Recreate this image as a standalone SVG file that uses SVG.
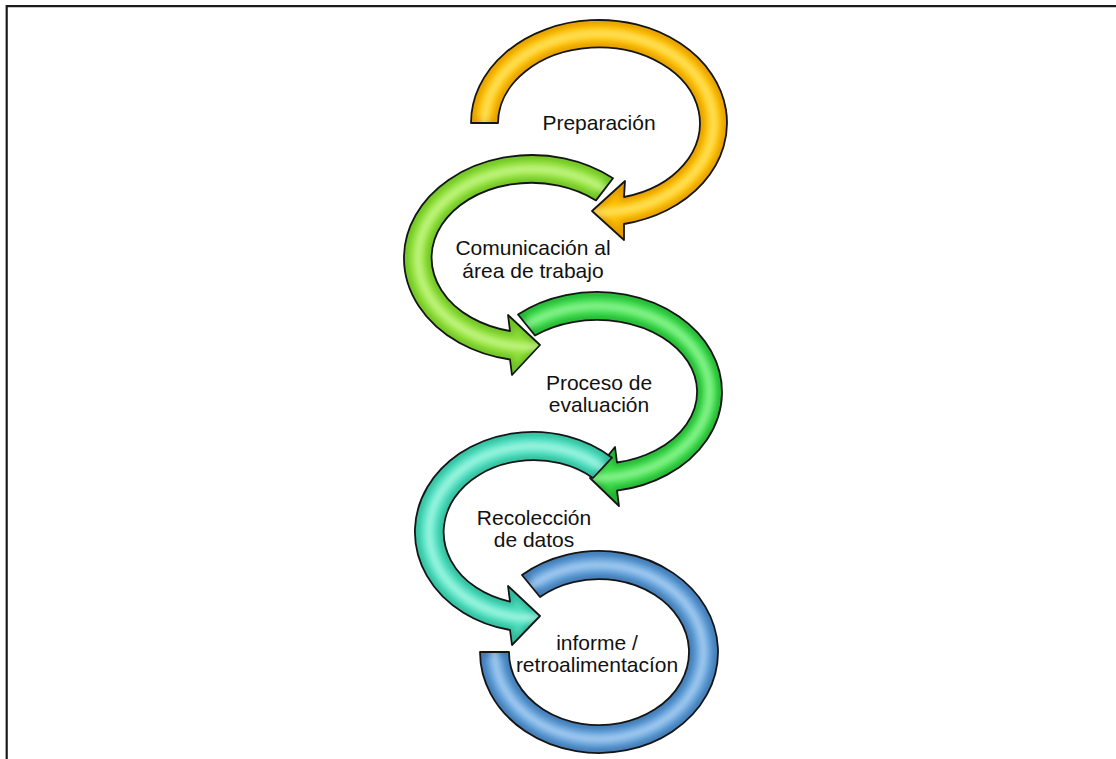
<svg xmlns="http://www.w3.org/2000/svg" xmlns:xlink="http://www.w3.org/1999/xlink" width="1116" height="759" viewBox="0 0 1116 759">
<style>
.lbl{font-family:"Liberation Sans",Arial,sans-serif;font-size:21px;fill:#111;text-anchor:middle}
.outline{fill:none;stroke:#151515;stroke-width:1.8;stroke-linejoin:round}
.frame{stroke:#1a1a1a;stroke-width:2.2;fill:none}
</style>
<defs>
<filter id="blur" x="-20%" y="-20%" width="140%" height="140%"><feGaussianBlur stdDeviation="3"/></filter>
<path id="p1" d="M471,123 A128,103 0 1 1 624,224 L624,240 L592,211 L625,181 L624,197 A101,76 0 1 0 498,123 Z"/>
<path id="p2" d="M613,178.3 A128,103 0 1 0 510,359.5 L512,375 L540,345 L508,315 L510,331 A100,75 0 1 1 596,200.4 Z"/>
<path id="p3" d="M518,314.5 A125,100 0 1 1 617,490.7 L619,506 L590,478 L615,447 L617,462.5 A100,72 0 1 0 535,335.5 Z"/>
<path id="p4" d="M612,457.7 A118,100 0 1 0 510,630 L512,645 L540,616 L508,586 L510,601.6 A90,72 0 1 1 593,478 Z"/>
<path id="p5" d="M522,575 A119,101 0 1 1 480,652 L509,652 A90,73 0 1 0 540,597 Z"/>
<clipPath id="c1"><use xlink:href="#p1"/></clipPath>
<clipPath id="c2"><use xlink:href="#p2"/></clipPath>
<clipPath id="c3"><use xlink:href="#p3"/></clipPath>
<clipPath id="c4"><use xlink:href="#p4"/></clipPath>
<clipPath id="c5"><use xlink:href="#p5"/></clipPath>
</defs>
<rect width="1116" height="759" fill="#fff"/>
<path class="frame" d="M6.7,759 L6.7,6.2 L1116,6.2"/>
<g id="connectors"/>
<g id="node-preparacion">
<use xlink:href="#p1" fill="#FFC000"/>
<g clip-path="url(#c1)">
<use xlink:href="#p1" fill="none" stroke="#E09A00" stroke-width="8" filter="url(#blur)"/>
<ellipse cx="599" cy="123" rx="114.5" ry="89.5" fill="none" stroke="#FFF38A" stroke-width="7" opacity="0.75" filter="url(#blur)"/>
</g>
<use xlink:href="#p1" class="outline"/>
<text class="lbl" x="599" y="130">Preparación</text>
</g>
<g id="node-comunicacion">
<use xlink:href="#p2" fill="#8FE03A"/>
<g clip-path="url(#c2)">
<use xlink:href="#p2" fill="none" stroke="#6CC020" stroke-width="8" filter="url(#blur)"/>
<ellipse cx="532" cy="258" rx="114" ry="89" fill="none" stroke="#DDFFA8" stroke-width="7" opacity="0.75" filter="url(#blur)"/>
</g>
<use xlink:href="#p2" class="outline"/>
<text class="lbl" x="533" y="255">Comunicación al</text>
<text class="lbl" x="533" y="278">área de trabajo</text>
</g>
<g id="node-proceso">
<use xlink:href="#p3" fill="#3DDC4C"/>
<g clip-path="url(#c3)">
<use xlink:href="#p3" fill="none" stroke="#22B030" stroke-width="8" filter="url(#blur)"/>
<ellipse cx="597" cy="392" rx="112.5" ry="86" fill="none" stroke="#B0FFB0" stroke-width="7" opacity="0.75" filter="url(#blur)"/>
</g>
<use xlink:href="#p3" class="outline"/>
<text class="lbl" x="599" y="390">Proceso de</text>
<text class="lbl" x="599" y="412">evaluación</text>
</g>
<g id="node-recoleccion">
<use xlink:href="#p4" fill="#4FE0C0"/>
<g clip-path="url(#c4)">
<use xlink:href="#p4" fill="none" stroke="#2FB898" stroke-width="8" filter="url(#blur)"/>
<ellipse cx="533" cy="532" rx="104" ry="86" fill="none" stroke="#C8FFF2" stroke-width="7" opacity="0.75" filter="url(#blur)"/>
</g>
<use xlink:href="#p4" class="outline"/>
<text class="lbl" x="534" y="525">Recolección</text>
<text class="lbl" x="534" y="547">de datos</text>
</g>
<g id="node-informe">
<use xlink:href="#p5" fill="#5E9ED8"/>
<g clip-path="url(#c5)">
<use xlink:href="#p5" fill="none" stroke="#3C74AE" stroke-width="8" filter="url(#blur)"/>
<ellipse cx="599" cy="652" rx="104.5" ry="87" fill="none" stroke="#CDE6FF" stroke-width="7" opacity="0.7" filter="url(#blur)"/>
</g>
<use xlink:href="#p5" class="outline"/>
<text class="lbl" x="597" y="650">informe /</text>
<text class="lbl" x="597" y="672">retroalimentacíon</text>
</g>
</svg>
